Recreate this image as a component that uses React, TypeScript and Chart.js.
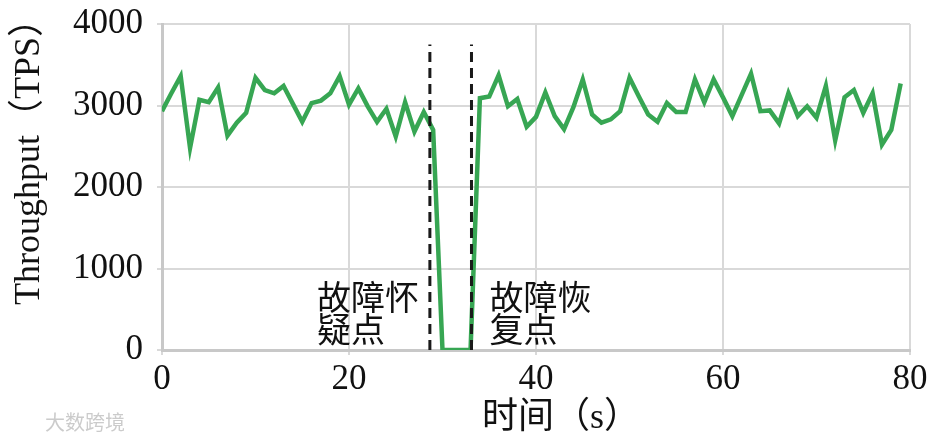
import React, { useEffect, useRef } from "react";
import { Chart, registerables } from "chart.js";

Chart.register(...registerables);

const times = [
  0, 1, 2, 3, 4, 5, 6, 7, 8, 9, 10, 11, 12, 13, 14, 15, 16, 17, 18, 19,
  20, 21, 22, 23, 24, 25, 26, 27, 28, 29, 30, 31, 32, 33, 34, 35, 36, 37, 38, 39,
  40, 41, 42, 43, 44, 45, 46, 47, 48, 49, 50, 51, 52, 53, 54, 55, 56, 57, 58, 59,
  60, 61, 62, 63, 64, 65, 66, 67, 68, 69, 70, 71, 72, 73, 74, 75, 76, 77, 78, 79,
];

const throughput = [
  2930, 3150, 3360, 2480, 3070, 3040, 3220, 2630, 2790, 2910,
  3340, 3190, 3150, 3240, 3020, 2800, 3030, 3060, 3150, 3360,
  3010, 3210, 2990, 2800, 2960, 2620, 3040, 2680, 2920, 2700,
  0, 0, 0, 0, 3090, 3110, 3370, 2990, 3080, 2740,
  2860, 3160, 2870, 2710, 2980, 3320, 2890, 2790, 2830, 2930,
  3340, 3110, 2890, 2800, 3030, 2920, 2920, 3320, 3040, 3320,
  3100, 2870, 3130, 3390, 2930, 2940, 2780, 3150, 2870, 2990,
  2850, 3240, 2570, 3100, 3190, 2910, 3150, 2520, 2700, 3270,
];

const faultTimes = [28.65, 33.1];
const faultLineTop = 3750;
const faultLabels = [
  ["故障怀", "疑点"],
  ["故障恢", "复点"],
];

const xTicks = [0, 20, 40, 60, 80];
const yTicks = [0, 1000, 2000, 3000, 4000];
const yTitle = "Throughput（TPS）";
const xTitle = "时间（s）";
const watermark = "大数跨境";

const FONT = "'Liberation Serif', 'Noto Sans CJK SC', serif";

const overlayPlugin = {
  id: "overlay",
  afterDraw(chart: any) {
    const ctx = chart.ctx as CanvasRenderingContext2D;
    const xs = chart.scales.x;
    const area = chart.chartArea;
    ctx.save();
    ctx.fillStyle = "#111";

    // y axis title
    ctx.save();
    ctx.font = `36px ${FONT}`;
    ctx.translate(30, 305);
    ctx.rotate(-Math.PI / 2);
    ctx.textAlign = "left";
    ctx.textBaseline = "middle";
    ctx.fillText(yTitle, 0, 0);
    ctx.restore();

    // x axis title
    ctx.font = `36px ${FONT}`;
    ctx.textAlign = "left";
    ctx.textBaseline = "alphabetic";
    ctx.fillText(xTitle, 482, 428);

    // annotations
    ctx.font = `34px ${FONT}`;
    const p0 = xs.getPixelForValue(faultTimes[0]);
    const p1 = xs.getPixelForValue(faultTimes[1]);
    const lx0 = p0 - 113;
    const lx1 = p1 + 18;
    const b1 = area.bottom - 40;
    const b2 = area.bottom - 8;
    ctx.fillText(faultLabels[0][0], lx0, b1);
    ctx.fillText(faultLabels[0][1], lx0, b2);
    ctx.fillText(faultLabels[1][0], lx1, b1);
    ctx.fillText(faultLabels[1][1], lx1, b2);

    // watermark
    ctx.font = `20px ${FONT}`;
    ctx.fillStyle = "rgba(190,190,190,0.8)";
    ctx.fillText(watermark, 45, 430);
    ctx.restore();
  },
};

export default function App() {
  const canvasRef = useRef<HTMLCanvasElement | null>(null);

  useEffect(() => {
    document.body.style.margin = "0";
    const canvas = canvasRef.current;
    if (!canvas) return;

    const dashedSets = faultTimes.map((t) => ({
      data: [
        { x: t, y: 0 },
        { x: t, y: faultLineTop },
      ],
      borderColor: "#1a1a1a",
      borderWidth: 3,
      borderDash: [10, 6],
      pointRadius: 0,
      fill: false,
    }));

    const chart = new Chart(canvas, {
      type: "line",
      data: {
        datasets: [
          ...dashedSets,
          {
            data: times.map((t, i) => ({ x: t, y: throughput[i] })),
            borderColor: "#37a653",
            borderWidth: 4.5,
            pointRadius: 0,
            tension: 0,
            fill: false,
            borderJoinStyle: "miter",
          },
        ],
      },
      options: {
        responsive: false,
        animation: false,
        layout: { padding: { left: 0, right: 34, top: 24, bottom: 0 } },
        plugins: {
          legend: { display: false },
          tooltip: { enabled: false },
        },
        scales: {
          x: {
            type: "linear",
            min: 0,
            max: 80,
            afterBuildTicks: (s: any) => {
              s.ticks = xTicks.map((v) => ({ value: v }));
            },
            afterFit: (s: any) => {
              s.height = 89;
              s.paddingLeft = 0;
              s.paddingRight = 0;
            },
            ticks: {
              color: "#111",
              font: { family: FONT, size: 35 },
              padding: 4,
              maxRotation: 0,
              callback: (v: any) => String(v),
            },
            grid: { color: "#d9d9d9", lineWidth: 2, tickLength: 5 },
            border: { color: "#c8c8c8", width: 3 },
          },
          y: {
            min: 0,
            max: 4000,
            afterBuildTicks: (s: any) => {
              s.ticks = yTicks.map((v) => ({ value: v }));
            },
            afterFit: (s: any) => {
              s.width = 162;
              s.paddingTop = 0;
              s.paddingBottom = 0;
            },
            ticks: {
              color: "#111",
              font: { family: FONT, size: 35 },
              padding: 14,
              callback: (v: any) => String(v),
            },
            grid: { color: "#d9d9d9", lineWidth: 2, tickLength: 5 },
            border: { color: "#c8c8c8", width: 3 },
          },
        },
      },
      plugins: [overlayPlugin],
    } as any);

    return () => chart.destroy();
  }, []);

  return (
    <div style={{ width: 944, height: 439, background: "#fff" }}>
      <canvas ref={canvasRef} width={944} height={439} />
    </div>
  );
}
